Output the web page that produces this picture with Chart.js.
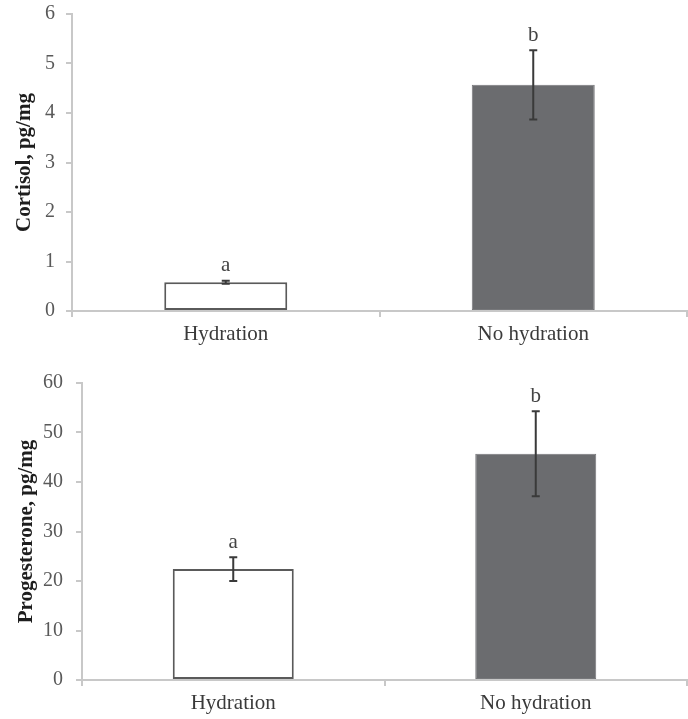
<!DOCTYPE html>
<html>
<head>
<meta charset="utf-8">
<script src="https://cdn.jsdelivr.net/npm/chart.js@4.4.0/dist/chart.umd.min.js"></script>
<style>
  html, body { margin: 0; padding: 0; background: #fff; }
  #wrap { position: relative; width: 688px; height: 719px; }
  canvas { position: absolute; left: 0; }
  #chartCortisol { top: 0; }
  #chartProg { top: 345px; }
</style>
</head>
<body>
<div id="wrap">
  <canvas id="chartCortisol" width="688" height="345"></canvas>
  <canvas id="chartProg" width="688" height="374"></canvas>
</div>
<script>
// Données
const categories = ['Hydration', 'No hydration'];

const cortisolMeans = [0.58, 4.57];
const cortisolErrors = [0.03, 0.70];
const cortisolLetters = ['a', 'b'];

const progMeans = [22.4, 45.7];
const progErrors = [2.4, 8.6];
const progLetters = ['a', 'b'];

const barFills = ['#ffffff', '#6b6c6f'];
const barBorders = ['#5a5a5a', '#76777a'];

// barres d'erreur + lettres au-dessus
const errorBarsPlugin = {
  id: 'errorBars',
  afterDatasetsDraw(chart, args, opts) {
    const ctx = chart.ctx;
    const y = chart.scales.y;
    const meta = chart.getDatasetMeta(0);
    const means = chart.data.datasets[0].data;
    ctx.save();
    meta.data.forEach((bar, i) => {
      const top = y.getPixelForValue(means[i] + opts.errors[i]);
      const bot = y.getPixelForValue(means[i] - opts.errors[i]);
      ctx.strokeStyle = '#3a3a3a';
      ctx.lineWidth = 2;
      ctx.beginPath();
      ctx.moveTo(bar.x, top);
      ctx.lineTo(bar.x, bot);
      ctx.moveTo(bar.x - 4, top);
      ctx.lineTo(bar.x + 4, top);
      ctx.moveTo(bar.x - 4, bot);
      ctx.lineTo(bar.x + 4, bot);
      ctx.stroke();
      ctx.fillStyle = '#444';
      ctx.font = '21px "Liberation Serif", serif';
      ctx.textAlign = 'center';
      ctx.textBaseline = 'middle';
      ctx.fillText(opts.letters[i], bar.x, top - 15);
    });
    ctx.restore();
  }
};

function faireGraphique(id, means, errors, letters, yMax, yStep, yTitle, yWidth, padTop, xHeight, tickPad, titlePad) {
  return new Chart(document.getElementById(id), {
    type: 'bar',
    data: {
      labels: categories,
      datasets: [{
        data: means,
        backgroundColor: barFills,
        borderColor: barBorders,
        borderWidth: [2, 1],
        borderSkipped: false,
        categoryPercentage: 1,
        barPercentage: 0.4
      }]
    },
    options: {
      responsive: false,
      animation: false,
      devicePixelRatio: 1,
      layout: { padding: { top: padTop, right: 1, left: 0, bottom: 0 } },
      plugins: {
        legend: { display: false },
        tooltip: { enabled: false },
        errorBars: { errors: errors, letters: letters }
      },
      scales: {
        x: {
          grid: { display: true, drawOnChartArea: false, drawTicks: true, tickLength: 6, color: '#c8c8c8', lineWidth: 2 },
          border: { color: '#c8c8c8', width: 2 },
          ticks: { color: '#3a3a3a', padding: 5, font: { family: '"Liberation Serif", serif', size: 21 } },
          afterFit: s => { s.height = xHeight; }
        },
        y: {
          min: 0,
          max: yMax,
          ticks: { stepSize: yStep, color: '#595959', padding: tickPad, font: { family: '"Liberation Serif", serif', size: 20 } },
          grid: { display: true, drawOnChartArea: false, drawTicks: true, tickLength: 6, color: '#c8c8c8', lineWidth: 2 },
          border: { color: '#c8c8c8', width: 2 },
          title: {
            display: true,
            text: yTitle,
            color: '#1e1e1e',
            padding: { top: titlePad, bottom: 0 },
            font: { family: '"Liberation Serif", serif', size: 21, weight: 'bold' }
          },
          afterFit: s => { s.width = yWidth; s.paddingTop = 0; s.paddingBottom = 0; }
        }
      }
    },
    plugins: [errorBarsPlugin]
  });
}

faireGraphique('chartCortisol', cortisolMeans, cortisolErrors, cortisolLetters, 6, 1, 'Cortisol, pg/mg', 72, 14, 34, 11, 12);
faireGraphique('chartProg', progMeans, progErrors, progLetters, 60, 10, 'Progesterone, pg/mg', 82, 38, 39, 13, 14);
</script>
</body>
</html>
